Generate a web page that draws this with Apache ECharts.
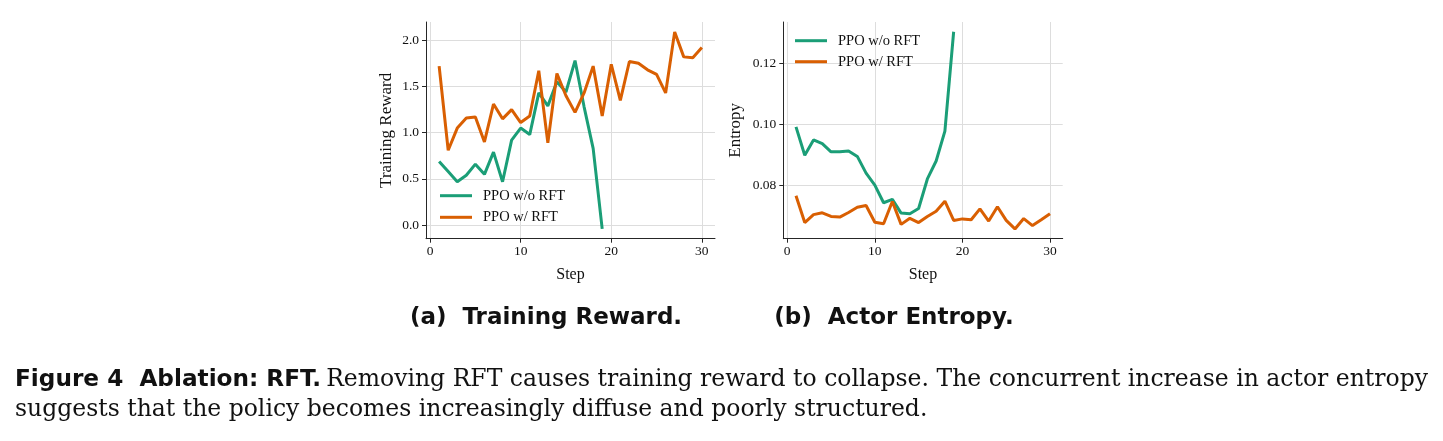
<!DOCTYPE html>
<html>
<head>
<meta charset="utf-8">
<script src="https://cdn.jsdelivr.net/npm/echarts@6/dist/echarts.min.js"></script>
<style>html,body{margin:0;padding:0;background:#fff;}#c{width:1443px;height:441px;}</style>
</head>
<body>
<div id="c"></div>
<script>
const steps = Array.from({length: 30}, (_, i) => i + 1);
const rewardNoRFT = [0.69,0.58,0.47,0.54,0.66,0.55,0.79,0.47,0.92,1.05,0.98,1.43,1.29,1.55,1.44,1.78,1.28,0.83,-0.04];
const rewardRFT = [1.72,0.81,1.05,1.16,1.17,0.90,1.31,1.15,1.25,1.11,1.18,1.67,0.89,1.64,1.40,1.22,1.43,1.72,1.18,1.74,1.35,1.77,1.75,1.68,1.63,1.43,2.09,1.82,1.81,1.92];
const entropyNoRFT = [0.0992,0.0899,0.0949,0.0937,0.0910,0.0910,0.0913,0.0895,0.0840,0.0801,0.0743,0.0754,0.0709,0.0707,0.0724,0.0821,0.0880,0.0978,0.1304];
const entropyRFT = [0.0766,0.0678,0.0704,0.0710,0.0698,0.0696,0.0711,0.0728,0.0734,0.0679,0.0674,0.0747,0.0672,0.0692,0.0678,0.0698,0.0715,0.0748,0.0685,0.0690,0.0687,0.0723,0.0683,0.0730,0.0685,0.0657,0.0691,0.0668,0.0687,0.0707];
const xTicks = [0, 10, 20, 30];
const rewardTicks = [0, 0.5, 1.0, 1.5, 2.0];
const entropyTicks = [0.08, 0.10, 0.12];
const seriesNames = ['PPO w/o RFT', 'PPO w/ RFT'];
const colors = ['#1b9e77', '#d95f02'];

const serif = 'Liberation Serif';
const axisCol = '#262626';
const gridCol = '#dddddd';

function pairs(vals) { return vals.map((v, i) => [steps[i], v]); }

function xAxis(gi) {
  return {
    type: 'value', gridIndex: gi, min: -0.45, max: 31.45,
    name: 'Step', nameLocation: 'middle', nameGap: 28,
    nameTextStyle: {fontFamily: serif, fontSize: 16, color: '#111'},
    axisLine: {show: true, onZero: false, lineStyle: {color: axisCol, width: 1}},
    axisTick: {show: true, length: 4, customValues: xTicks, lineStyle: {color: axisCol}},
    axisLabel: {customValues: xTicks, fontFamily: serif, fontSize: 13.5, color: '#111', margin: 6},
    splitLine: {show: true, lineStyle: {color: gridCol, width: 1}}
  };
}
function yAxis(gi, name, min, max, ticks, dec, gap) {
  return {
    type: 'value', gridIndex: gi, min: min, max: max,
    name: name, nameLocation: 'middle', nameGap: gap, nameRotate: 90,
    nameTextStyle: {fontFamily: serif, fontSize: 17, color: '#111'},
    axisLine: {show: true, onZero: false, lineStyle: {color: axisCol, width: 1}},
    axisTick: {show: true, length: 4, customValues: ticks, lineStyle: {color: axisCol}},
    axisLabel: {customValues: ticks, fontFamily: serif, fontSize: 13.5, color: '#111', margin: 7,
      formatter: v => v.toFixed(dec)},
    splitLine: {show: true, lineStyle: {color: gridCol, width: 1}}
  };
}
function line(name, data, color, xi) {
  return {
    type: 'line', name: name, xAxisIndex: xi, yAxisIndex: xi, data: data,
    showSymbol: false, symbol: 'none', lineStyle: {color: color, width: 3}, itemStyle: {color: color},
    animation: false, z: 3
  };
}
function legend(name, left, top) {
  return {
    data: [{name: name, icon: 'rect'}], left: left, top: top, orient: 'vertical',
    itemWidth: 32, itemHeight: 3, itemGap: 0, padding: 0,
    textStyle: {fontFamily: serif, fontSize: 14.5, color: '#111', padding: [0, 0, 0, 6], lineHeight: 16},
    selectedMode: false
  };
}

const chart = echarts.init(document.getElementById('c'));
chart.setOption({
  animation: false,
  backgroundColor: '#fff',
  grid: [
    {left: 426, top: 22, width: 289, height: 216.7},
    {left: 783.3, top: 22, width: 279.4, height: 216.7}
  ],
  xAxis: [xAxis(0), xAxis(1)],
  yAxis: [
    yAxis(0, 'Training Reward', -0.146, 2.197, rewardTicks, 1, 31),
    yAxis(1, 'Entropy', 0.0625, 0.1336, entropyTicks, 2, 39)
  ],
  legend: [
    legend(seriesNames[0], 440, 187.7),
    legend(seriesNames[1], 440, 209.3),
    legend(seriesNames[0], 795, 32.7),
    legend(seriesNames[1], 795, 53.7)
  ],
  series: [
    line(seriesNames[0], pairs(rewardNoRFT), colors[0], 0),
    line(seriesNames[1], pairs(rewardRFT), colors[1], 0),
    line(seriesNames[0], pairs(entropyNoRFT), colors[0], 1),
    line(seriesNames[1], pairs(entropyRFT), colors[1], 1)
  ],
  title: [
    {text: '(a)  Training Reward.', left: 546, textAlign: 'center', top: 307, padding: 0,
     textStyle: {fontFamily: 'DejaVu Sans', fontWeight: 'bold', fontSize: 23, color: '#111'}},
    {text: '(b)  Actor Entropy.', left: 894, textAlign: 'center', top: 307, padding: 0,
     textStyle: {fontFamily: 'DejaVu Sans', fontWeight: 'bold', fontSize: 23, color: '#111'}},
    {text: '{b|Figure 4  Ablation: RFT.} {r|Removing RFT causes training reward to collapse. The concurrent increase in actor entropy}',
     left: 15, top: 368, padding: 0,
     textStyle: {rich: {
       b: {fontFamily: 'DejaVu Sans', fontWeight: 'bold', fontSize: 23.2, color: '#111'},
       r: {fontFamily: 'DejaVu Serif', fontWeight: 'normal', fontSize: 23.5, color: '#111'}
     }}},
    {text: 'suggests that the policy becomes increasingly diffuse and poorly structured.',
     left: 15, top: 398, padding: 0,
     textStyle: {fontFamily: 'DejaVu Serif', fontWeight: 'normal', fontSize: 23.5, color: '#111'}}
  ]
});
</script>
</body>
</html>
